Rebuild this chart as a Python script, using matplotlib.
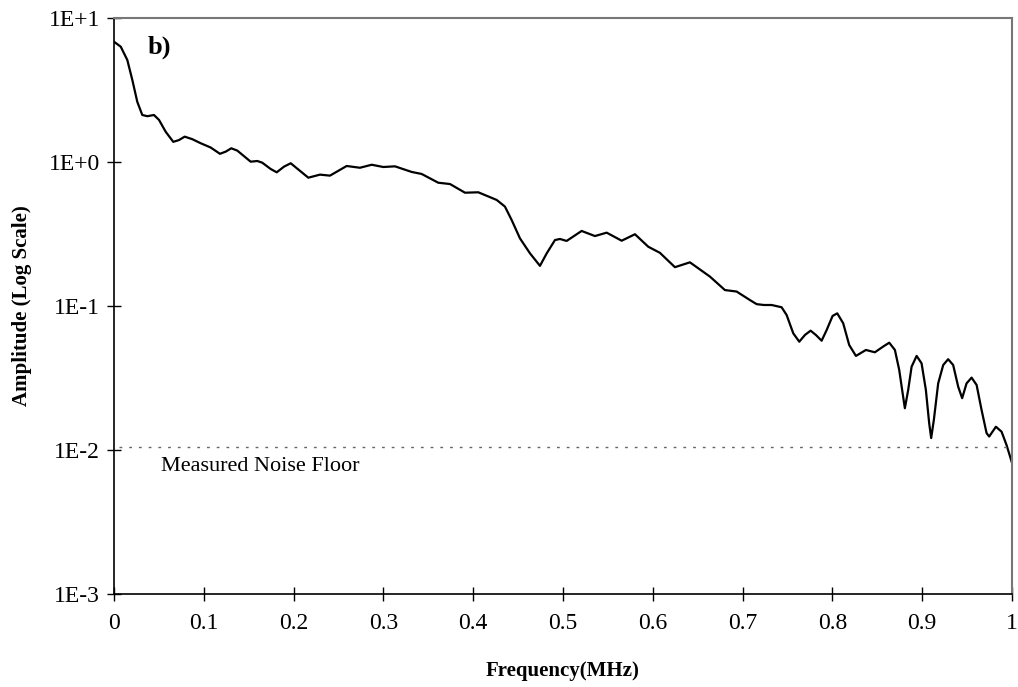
import matplotlib.pyplot as plt
from matplotlib.ticker import FixedLocator, NullLocator

plt.rcParams['font.family'] = ['Liberation Serif', 'DejaVu Serif']

# spectrum (frequency in MHz, amplitude)
freq = [0.0, 0.0075, 0.0148, 0.0204, 0.0259, 0.0315, 0.0371, 0.0445, 0.0501, 0.0576,
        0.066, 0.0724, 0.0787, 0.0872, 0.0965, 0.1077, 0.118, 0.1244, 0.1306, 0.1373,
        0.1522, 0.1596, 0.1651, 0.1745, 0.1812, 0.1893, 0.1968,
        0.2164, 0.2294, 0.2405, 0.2591, 0.2739, 0.287, 0.2999, 0.3129, 0.3315, 0.3426,
        0.3611, 0.3742, 0.3909, 0.4057, 0.4262, 0.4354, 0.4429, 0.4521, 0.4633, 0.4744,
        0.4819, 0.4911, 0.4967, 0.5041, 0.5208, 0.5356, 0.5487, 0.5654, 0.5802, 0.595,
        0.608, 0.6247, 0.6414, 0.6637, 0.6804, 0.6934, 0.7082, 0.7157,
        0.7238, 0.7324, 0.7435, 0.7491, 0.7565, 0.7632, 0.7695, 0.7758, 0.7817, 0.7881,
        0.7937, 0.8003, 0.8055, 0.8121, 0.8188, 0.8263, 0.8374, 0.8474, 0.8567, 0.8634,
        0.8697, 0.8745, 0.8783, 0.8808, 0.8845, 0.8883, 0.8939, 0.8994, 0.9042, 0.9079,
        0.9101, 0.9131, 0.9179, 0.9235, 0.929, 0.9346, 0.9402, 0.9446, 0.9495, 0.9551,
        0.9607, 0.9662, 0.9718, 0.9747, 0.9822, 0.9885, 0.9941, 0.9997]
amp = [6.84, 6.32, 5.11, 3.71, 2.62, 2.12, 2.08, 2.12, 1.96, 1.62,
       1.38, 1.42, 1.50, 1.44, 1.35, 1.26, 1.14, 1.18, 1.245, 1.20,
       1.005, 1.016, 0.989, 0.894, 0.848, 0.928, 0.98,
       0.778, 0.817, 0.804, 0.938, 0.912, 0.957, 0.923, 0.933, 0.853, 0.826,
       0.718, 0.703, 0.612, 0.616, 0.545, 0.490, 0.395, 0.295, 0.232, 0.190,
       0.232, 0.287, 0.292, 0.283, 0.332, 0.306, 0.323, 0.284, 0.315, 0.258,
       0.234, 0.186, 0.201, 0.160, 0.129, 0.126, 0.110, 0.103,
       0.1016, 0.1016, 0.098, 0.0866, 0.0646, 0.0565, 0.0629, 0.0674, 0.0629, 0.0574,
       0.0681, 0.0853, 0.0889, 0.0759, 0.0536, 0.0450, 0.0495, 0.0477, 0.0523, 0.0556,
       0.0495, 0.0360, 0.0248, 0.0195, 0.0261, 0.0379, 0.0450, 0.0400, 0.0261, 0.0153,
       0.0121, 0.0162, 0.0290, 0.0389, 0.0427, 0.0389, 0.0275, 0.0229, 0.0290, 0.0318,
       0.0283, 0.0190, 0.0131, 0.0124, 0.0145, 0.0134, 0.0108, 0.0083]

noise_floor = 0.0105
noise_x = [0.005, 1.0]

xticks = [0, 0.1, 0.2, 0.3, 0.4, 0.5, 0.6, 0.7, 0.8, 0.9, 1.0]
xlabels = ['0', '0.1', '0.2', '0.3', '0.4', '0.5', '0.6', '0.7', '0.8', '0.9', '1']
yticks = [1e-3, 1e-2, 1e-1, 1e0, 1e1]
ylabels = ['1E-3', '1E-2', '1E-1', '1E+0', '1E+1']

fig = plt.figure(figsize=(10.18, 6.87), dpi=100)
ax = fig.add_axes([0.112, 0.1354, 0.882, 0.8384])

ax.plot(freq, amp, color='black', lw=1.6, solid_joinstyle='round')
ax.plot(noise_x, [noise_floor, noise_floor], color='#666666', lw=1.0,
        linestyle=(0, (2, 5)))

ax.set_yscale('log')
ax.set_xlim(0, 1)
ax.set_ylim(1e-3, 1e1)
ax.xaxis.set_major_locator(FixedLocator(xticks))
ax.set_xticklabels(xlabels)
ax.yaxis.set_major_locator(FixedLocator(yticks))
ax.yaxis.set_minor_locator(NullLocator())
ax.set_yticklabels(ylabels)
ax.tick_params(direction='inout', length=10, width=1, labelsize=17)
ax.tick_params(axis='x', pad=9)
ax.tick_params(axis='y', pad=5)

for side in ['left', 'bottom']:
    ax.spines[side].set_color('black')
    ax.spines[side].set_linewidth(1.2)
for side in ['top', 'right']:
    ax.spines[side].set_color('#777777')
    ax.spines[side].set_linewidth(1.5)

ax.text(0.052, 0.0072, 'Measured Noise Floor', fontsize=16)
ax.text(0.037, 5.7, 'b)', fontsize=19, fontweight='bold')

ax.set_xlabel('Frequency(MHz)', fontsize=15, fontweight='bold', labelpad=19)
ax.set_ylabel('Amplitude (Log Scale)', fontsize=15, fontweight='bold', labelpad=12)

fig.savefig('out.png', dpi=100)
